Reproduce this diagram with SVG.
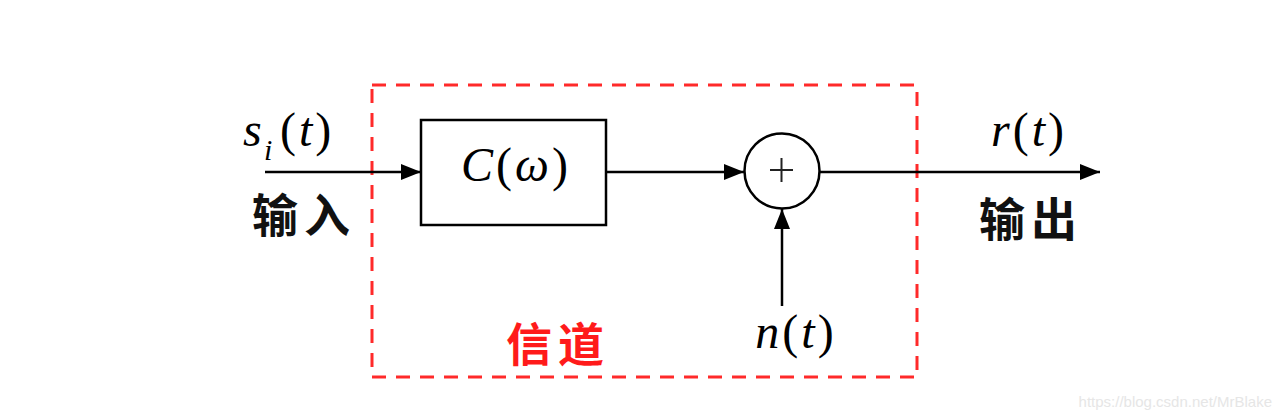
<svg xmlns="http://www.w3.org/2000/svg" width="1282" height="419" viewBox="0 0 1282 419">
<style>
.ln{stroke:#000;stroke-width:2.5;fill:none}
.m{font-family:"Liberation Serif","DejaVu Serif",serif;font-style:italic;font-size:48px;fill:#000;letter-spacing:3px}
.p{font-style:normal}
.cjk{font-family:"Noto Sans CJK SC","Noto Sans CJK JP",sans-serif;font-size:46px;font-weight:bold;fill:#111;letter-spacing:6px}
</style>
<defs>
<marker id="ah" markerWidth="20" markerHeight="16" refX="20" refY="8" orient="auto" markerUnits="userSpaceOnUse">
<path d="M0,0 L20,8 L0,16 Z" fill="#000"/>
</marker>
</defs>
<rect width="1282" height="419" fill="#fff"/>
<g id="channel">
<rect x="372" y="85" width="545" height="292" fill="none" stroke="#ff2a2a" stroke-width="3" stroke-dasharray="14,10"/>
<text x="558" y="361" text-anchor="middle" class="cjk" style="fill:#ff1a1a">信道</text>
</g>
<g id="connectors">
<line x1="265" y1="172" x2="421" y2="172" class="ln" marker-end="url(#ah)"/>
<line x1="606" y1="172" x2="744" y2="172" class="ln" marker-end="url(#ah)"/>
<line x1="820" y1="172" x2="1100" y2="172" class="ln" marker-end="url(#ah)"/>
<line x1="782" y1="306" x2="782" y2="209" class="ln" marker-end="url(#ah)"/>
</g>
<g id="input">
<text x="243" y="146" class="m">s</text>
<text x="264" y="160" class="m" style="font-size:30px">i</text>
<text x="280" y="146" class="m"><tspan class="p">(</tspan>t<tspan class="p">)</tspan></text>
<text x="304" y="232" text-anchor="middle" class="cjk">输入</text>
</g>
<g id="C">
<rect x="421" y="120" width="185" height="105" fill="#fff" class="ln"/>
<text x="516" y="181" text-anchor="middle" class="m">C<tspan class="p">(</tspan>ω<tspan class="p">)</tspan></text>
</g>
<g id="sum">
<circle cx="782" cy="171" r="37.5" fill="#fff" class="ln"/>
<path d="M770,170 H793 M781.5,158 V182" stroke="#222" stroke-width="2" fill="none"/>
</g>
<g id="noise">
<text x="796" y="348" text-anchor="middle" class="m">n<tspan class="p">(</tspan>t<tspan class="p">)</tspan></text>
</g>
<g id="output">
<text x="1029" y="146" text-anchor="middle" class="m">r<tspan class="p">(</tspan>t<tspan class="p">)</tspan></text>
<text x="1031" y="236" text-anchor="middle" class="cjk">输出</text>
</g>
<text x="1272" y="407" text-anchor="end" font-family="Liberation Sans,Arial,sans-serif" font-size="15" fill="#e6e6e6">https://blog.csdn.net/MrBlake</text>
</svg>
